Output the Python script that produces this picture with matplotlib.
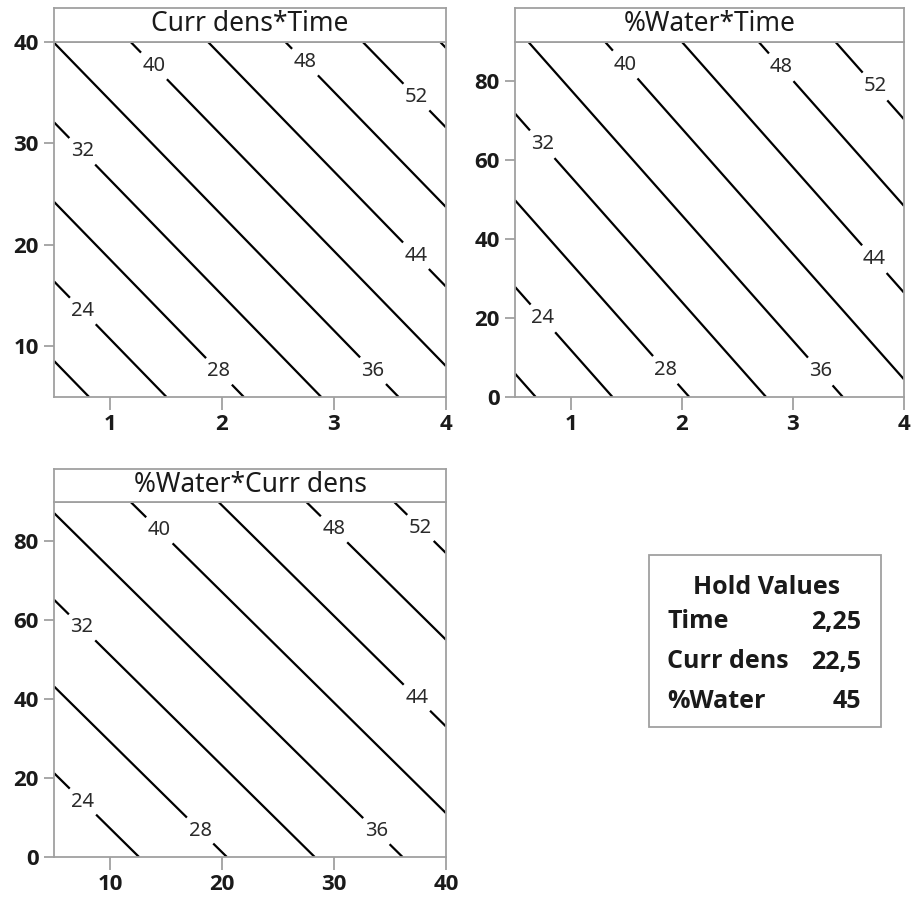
import numpy as np
import matplotlib
matplotlib.use("Agg")
import matplotlib.pyplot as plt
from matplotlib.patches import Rectangle
from matplotlib import font_manager as fm

plt.rcParams['font.family'] = ['Noto Sans', 'DejaVu Sans']


def bold_family():
    for fam in ['Open Sans', 'Noto Sans', 'Lato', 'Roboto', 'Liberation Sans',
                'DejaVu Sans']:
        try:
            path = fm.findfont(fm.FontProperties(family=fam, weight='bold'),
                               fallback_to_default=False)
        except Exception:
            continue
        f = fm.get_font(path)
        name = (f.style_name or '').lower()
        if 'bold' in name or 'semibold' in name:
            return fam
    return 'DejaVu Sans'


BOLD = bold_family()

# ---- fitted model ----
intercept = 4.55
coef_time = 5.79
coef_curr = 0.51
coef_water = 0.182

# hold values
hold_names = ["Time", "Curr dens", "%Water"]
hold_vals = [2.25, 22.5, 45]
hold_text = ["2,25", "22,5", "45"]

# axis ranges
time_range = [0.5, 4.0]
curr_range = [5.0, 40.0]
water_range = [0.0, 90.0]

plain_levels = [20, 56]
label_levels = [24, 28, 32, 36, 40, 44, 48, 52]

# label positions (data coords) per panel
lab_p1 = [(0.75, 13.4), (1.98, 7.6), (0.75, 29.2), (3.34, 7.5),
          (1.37, 37.4), (3.72, 18.8), (2.73, 37.9), (3.72, 34.4)]
lab_p2 = [(0.75, 19.9), (1.85, 6.8), (0.75, 64.2), (3.26, 6.8),
          (1.50, 84.5), (3.74, 35.1), (2.90, 83.7), (3.75, 79.0)]
lab_p3 = [(7.5, 13.8), (17.9, 6.3), (7.5, 58.2), (33.7, 6.3),
          (14.3, 82.5), (37.2, 39.8), (29.8, 82.5), (37.4, 82.5)]

x_ticks_time = [1, 2, 3, 4]
x_ticks_curr = [10, 20, 30, 40]
y_ticks_curr = [10, 20, 30, 40]
y_ticks_water = [0, 20, 40, 60, 80]


def response(t, c, w):
    return intercept + coef_time * t + coef_curr * c + coef_water * w


W, H = 914, 898
fig = plt.figure(figsize=(W / 100, H / 100), dpi=100)

SPINE = '#a0a0a0'
TXT = '#1a1a1a'


def fr(left, top, right, bottom):
    return [left / W, 1 - bottom / H, (right - left) / W, (bottom - top) / H]


def panel(rect, strip_rect, title, xr, yr, zfun, labpos, xt, yt):
    ax = fig.add_axes(fr(*rect))
    xs = np.linspace(xr[0], xr[1], 200)
    ys = np.linspace(yr[0], yr[1], 200)
    X, Y = np.meshgrid(xs, ys)
    Z = zfun(X, Y)
    ax.contour(X, Y, Z, levels=plain_levels, colors='black', linewidths=1.6)
    cs = ax.contour(X, Y, Z, levels=label_levels, colors='black',
                    linewidths=1.6)
    txts = ax.clabel(cs, manual=labpos, inline=True,
                     fmt='%d', fontsize=14.5, colors='#2a2a2a',
                     inline_spacing=7)
    for t in txts:
        t.set_rotation(0)
    ax.set_xlim(xr)
    ax.set_ylim(yr)
    ax.set_xticks(xt, labels=[str(v) for v in xt], fontweight='bold',
                  family=BOLD, fontsize=16, color=TXT)
    ax.set_yticks(yt, labels=[str(v) for v in yt], fontweight='bold',
                  family=BOLD, fontsize=16, color=TXT)
    for s in ax.spines.values():
        s.set_color(SPINE)
        s.set_linewidth(1.3)
    ax.tick_params(axis='x', length=9, width=1.3, color=SPINE, pad=3)
    ax.tick_params(axis='y', length=7, width=1.3, color=SPINE, pad=4)
    sx = fig.add_axes(fr(*strip_rect))
    sx.set_xticks([])
    sx.set_yticks([])
    for s in sx.spines.values():
        s.set_color(SPINE)
        s.set_linewidth(1.3)
    sx.text(0.5, 0.52, title, ha='center', va='center', fontsize=19,
            color=TXT, transform=sx.transAxes)
    return ax


T_h, C_h, W_h = hold_vals

panel((54, 42, 446, 397), (54, 8, 446, 42), "Curr dens*Time",
      time_range, curr_range, lambda t, c: response(t, c, W_h),
      lab_p1, x_ticks_time, y_ticks_curr)
panel((515, 42, 904, 397), (515, 8, 904, 42), "%Water*Time",
      time_range, water_range, lambda t, w: response(t, C_h, w),
      lab_p2, x_ticks_time, y_ticks_water)
panel((54, 502, 446, 857), (54, 469, 446, 502), "%Water*Curr dens",
      curr_range, water_range, lambda c, w: response(T_h, c, w),
      lab_p3, x_ticks_curr, y_ticks_water)

# Hold values box
bx0, by0, bx1, by1 = 649, 555, 881, 727
fig.patches.append(Rectangle((bx0 / W, 1 - by1 / H), (bx1 - bx0) / W,
                             (by1 - by0) / H, transform=fig.transFigure,
                             fill=False, edgecolor=SPINE, linewidth=1.3))
fig.text(767 / W, 1 - 587 / H, "Hold Values", ha='center', va='center',
         fontsize=18, fontweight='bold', family=BOLD, color=TXT)
row_y = [622, 662, 702]
for name, val, ry in zip(hold_names, hold_text, row_y):
    fig.text(667 / W, 1 - ry / H, name, ha='left', va='center',
             fontsize=18, fontweight='bold', family=BOLD, color=TXT)
    fig.text(861 / W, 1 - ry / H, val, ha='right', va='center',
             fontsize=18, fontweight='bold', family=BOLD, color=TXT)

fig.savefig('out.png', dpi=100)
